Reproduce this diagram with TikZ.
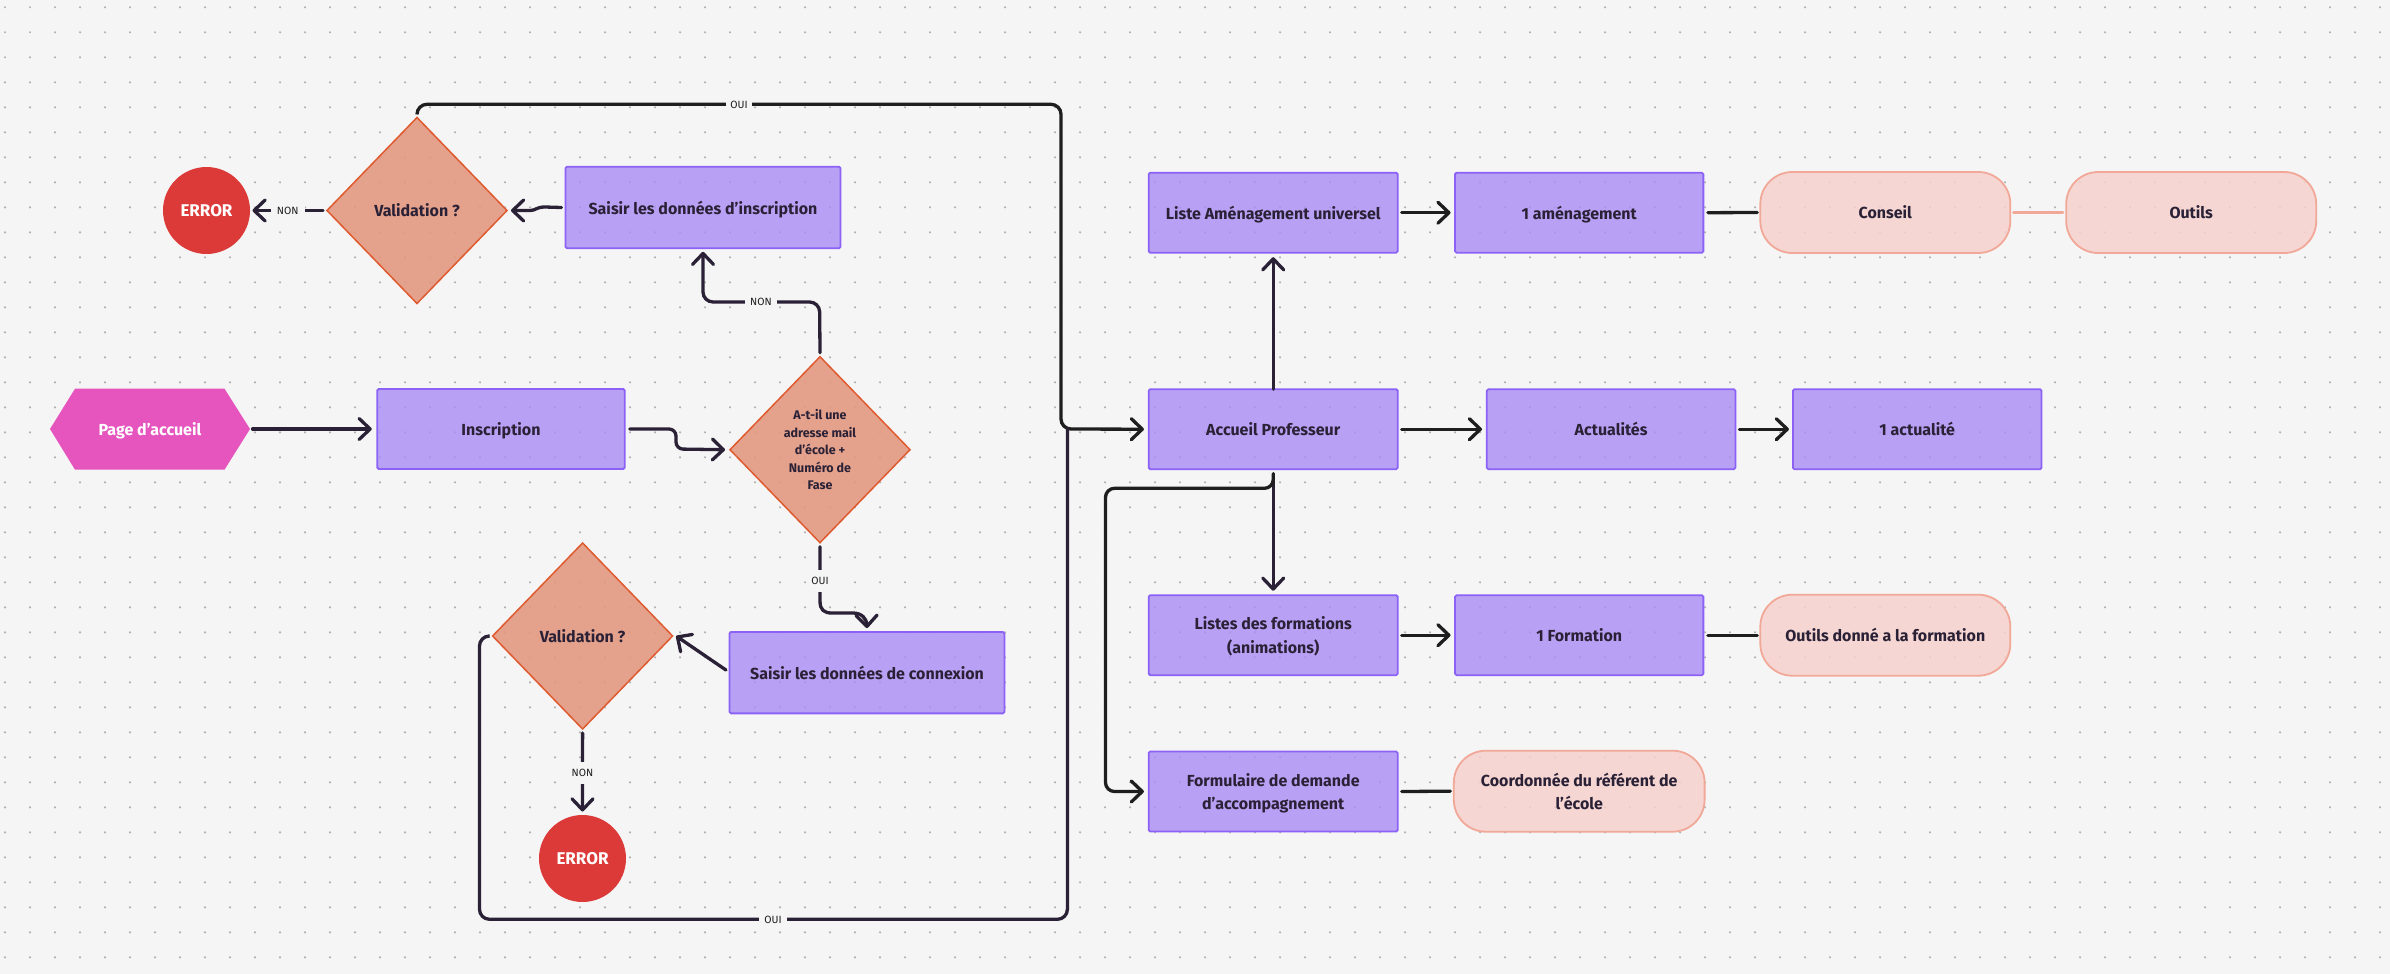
\documentclass[tikz,border=0pt]{standalone}
\usepackage{fontspec}
\setmainfont{Fira Sans}
\usetikzlibrary{arrows.meta,shapes.geometric,calc}
\definecolor{bgc}{HTML}{F5F5F5}
\definecolor{dotc}{HTML}{B0B0B0}
\definecolor{purf}{HTML}{A98DF4}
\definecolor{purd}{HTML}{8B62F5}
\definecolor{decf}{HTML}{E39880}
\definecolor{decd}{HTML}{E05A30}
\definecolor{softf}{HTML}{F6D1CC}
\definecolor{softd}{HTML}{F2A898}
\definecolor{errf}{HTML}{DC3A38}
\definecolor{pinkf}{HTML}{E655BE}
\definecolor{ink}{HTML}{2A2136}
\definecolor{inkb}{HTML}{1E1E1E}
\tikzset{
  x=1pt,y=-1pt,
  txt/.style={font=\bfseries\fontsize{16}{23.7}\selectfont,text=ink,align=center,inner sep=0pt,outer sep=0pt,text depth=0pt},
  procbox/.style={txt,draw=purd,line width=1.8pt,fill=purf,fill opacity=.8,text opacity=1,draw opacity=1,rounded corners=1.5pt,minimum width=249pt,minimum height=80pt},
  softbox/.style={txt,draw=softd,line width=1.8pt,fill=softf,fill opacity=.85,text opacity=1,draw opacity=1,rounded corners=32pt,minimum width=250pt,minimum height=81pt},
  decbox/.style={txt,diamond,aspect=1,draw=decd,line width=1.5pt,fill=decf,fill opacity=.9,text opacity=1,draw opacity=1,minimum width=180pt,minimum height=186pt},
  errbox/.style={txt,font=\bfseries\fontsize{17}{20}\selectfont,text=white,ellipse,fill=errf,minimum width=87pt,minimum height=87pt},
  lbl/.style={font=\fontsize{10.5}{12}\selectfont,text=inkb,fill=bgc,inner sep=0pt,outer sep=0pt,align=center},
  conn/.style={line width=3.3pt,draw=ink,line cap=round},
  connb/.style={line width=3.3pt,draw=inkb,line cap=round},
  arr/.style={-{Straight Barb[length=11pt,width=21pt,round]}},
  elbow/.style={rounded corners=10pt}
}
\begin{document}
\begin{tikzpicture}
\useasboundingbox (0,0) rectangle (2390,974);
\fill[bgc] (0,0) rectangle (2390,974);
% dot grid
\foreach \i in {0,...,95}{\foreach \j in {0,...,38}{
  \fill[dotc] ({5+25*\i},{7.3+25*\j}) circle[radius=1.2pt];
}}
% nodes
\coordinate (h1) at (50,429);
\fill[pinkf] (h1) -- (75,388.7) -- (224.5,388.7) -- (250,429) -- (224.5,469.7) -- (75,469.7) -- cycle;
\node[txt,text=white,minimum width=200pt,minimum height=81pt] (pa) at (150,429) {Page d’accueil};
\node[procbox,minimum width=247.5pt,minimum height=80pt] (ins) at (501,429) {Inscription};
\node[decbox,font=\bfseries\fontsize{12.5}{17.6}\selectfont] (d2) at (820,449.7) {A-t-il une\\adresse mail\\d’école +\\Numéro de\\Fase};
\node[decbox] (d1) at (417,210.5) {Validation ?};
\node[errbox] (e1) at (206.5,210.5) {ERROR};
\node[procbox,minimum width=275pt,minimum height=81.6pt] (si) at (703,207.5) {Saisir les données d’inscription};
\node[decbox] (d3) at (582.6,636) {Validation ?};
\node[procbox,minimum width=275pt,minimum height=81.3pt] (sc) at (867,672.7) {Saisir les données de connexion};
\node[errbox] (e2) at (582.5,858.5) {ERROR};
\node[procbox] (li) at (1273.2,212.7) {Liste Aménagement universel};
\node[procbox,minimum width=248.3pt] (am) at (1579.2,212.7) {1 aménagement};
\node[softbox] (co) at (1885.3,212.5) {Conseil};
\node[softbox] (ou) at (2191.2,212.5) {Outils};
\node[procbox] (ap) at (1273.2,429.2) {Accueil Professeur};
\node[procbox,minimum width=248.6pt] (ac) at (1611.1,429.2) {Actualités};
\node[procbox,minimum width=248.6pt] (ua) at (1917.2,429.2) {1 actualité};
\node[procbox] (lf) at (1273.2,635.2) {Listes des formations\\(animations)};
\node[procbox,minimum width=248.3pt] (uf) at (1579.2,635.2) {1 Formation};
\node[softbox] (od) at (1885.3,635.2) {Outils donné a la formation};
\node[procbox] (fo) at (1273.2,791.5) {Formulaire de demande\\d’accompagnement};
\node[softbox,minimum width=250.8pt] (cr) at (1579.2,791.2) {Coordonnée du référent de\\l’école};
% connectors
\coordinate (mrg) at (1067.4,429);
\draw[connb,arr,elbow] ([yshift=4pt]d1.north) |- (1061,104.3) -- (1061,429) -- ([xshift=-4.8pt]ap.west);
\draw[conn,elbow] ([xshift=-4.4pt]d3.west) -| (479.5,919.3) -| (mrg);
\draw[conn,arr] ([xshift=2.6pt]pa.east) -- ([xshift=-5.5pt]ins.west);
\draw[conn,arr,rounded corners=7pt] ([xshift=5pt]ins.east) -- (676,429) -- (676,449) -- ([xshift=-5pt]d2.west);
\draw[conn,arr,elbow] ([yshift=4pt]d2.north) -- (819.6,302) -- (703,302) -- ([yshift=-3.5pt]si.south);
\draw[conn,arr] ([xshift=-4pt]si.west) -- (545,207) .. controls (536,207) and (536,210.5) .. (530,210.5) -- ([xshift=4pt]d1.east);
\draw[conn,arr] ([xshift=-4pt]d1.west) -- ([xshift=2.5pt]e1.east);
\draw[conn,arr] ([yshift=-4pt]d2.south) -- (820,601) .. controls (820,610) and (824,613) .. (832,613) -- (853,613) .. controls (862,613) and (866.7,619) .. ([yshift=4pt]sc.north);
\draw[conn,arr] ([yshift=-1pt]sc.north west) ++(-3.5pt,-37pt) -- ([xshift=3.5pt]d3.east);
\draw[conn,arr] ([yshift=-4pt]d3.south) -- ([yshift=3.5pt]e2.north);
\draw[conn,arr] (ap.north) -- ([yshift=-4.5pt]li.south);
\draw[connb,arr] ([xshift=4pt]li.east) -- ([xshift=-4.5pt]am.west);
\draw[connb] ([xshift=4.5pt]am.east) -- ([xshift=-3pt]co.west);
\draw[softd,line width=3.3pt,line cap=round] ([xshift=3.3pt]co.east) -- ([xshift=-3.5pt]ou.west);
\draw[connb,arr] ([xshift=4pt]ap.east) -- ([xshift=-4.8pt]ac.west);
\draw[connb,arr] ([xshift=4pt]ac.east) -- ([xshift=-4pt]ua.west);
\draw[conn,arr] ([yshift=-4.5pt]ap.south) -- ([yshift=4.5pt]lf.north);
\draw[connb,rounded corners=9pt,arr] ([yshift=-4.5pt]ap.south) -- (1273.4,488.3) -- (1105.5,488.3) -- (1105.5,791.5) -- ([xshift=-4.8pt]fo.west);
\draw[connb,arr] ([xshift=4pt]lf.east) -- ([xshift=-4.5pt]uf.west);
\draw[connb] ([xshift=4.5pt]uf.east) -- ([xshift=-3pt]od.west);
\draw[connb] ([xshift=4pt]fo.east) -- ([xshift=-3.5pt]cr.west);
% connector labels
\node[lbl,minimum width=26pt,minimum height=14pt] (l1) at (739,104.5) {OUI};
\node[lbl,minimum width=34pt,minimum height=14pt] (l2) at (287.7,210.5) {NON};
\node[lbl,minimum width=32pt,minimum height=14pt] (l3) at (761,302) {NON};
\node[lbl,minimum width=26pt,minimum height=22pt] (l4) at (820,580.7) {OUI};
\node[lbl,minimum width=26pt,minimum height=22pt] (l5) at (582.5,772.7) {NON};
\node[lbl,minimum width=28pt,minimum height=14pt] (l6) at (773,919.5) {OUI};
\end{tikzpicture}
\end{document}
